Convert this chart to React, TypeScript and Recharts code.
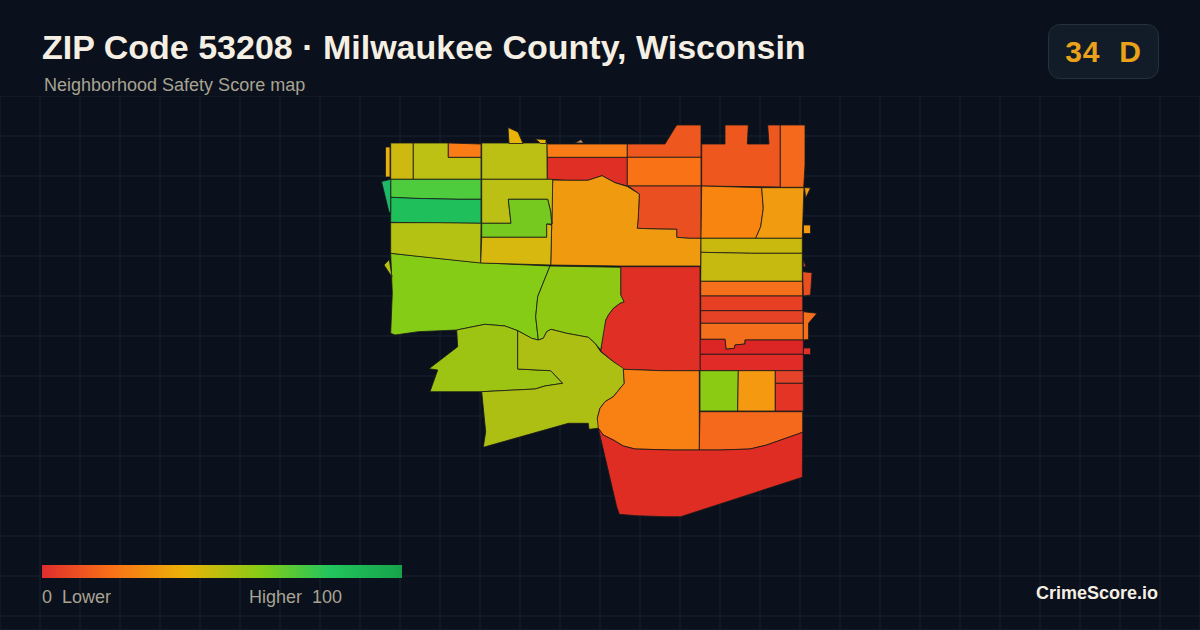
import { CartesianGrid, Scatter, ScatterChart, XAxis, YAxis } from 'recharts';

// map units: 1200 x 630 sheet
const X_TICKS = [0, 40, 80, 120, 160, 200, 240, 280, 320, 360, 400, 440, 480, 520, 560, 600, 640, 680, 720, 760, 800, 840, 880, 920, 960, 1000, 1040, 1080, 1120, 1160, 1200];
const Y_TICKS = [96, 136, 176, 216, 256, 296, 336, 376, 416, 456, 496, 536, 576, 616];

type Ring = Array<[number, number]>;

const NW_SLIVER: Ring = [[385.5, 147], [390, 147], [390, 177], [385.5, 177]];
const NW_BOX: Ring = [[390.7, 143], [413.3, 143], [413.3, 179.3], [390.7, 179.3]];
const NW_ELL: Ring = [[413.3, 143], [448.3, 143], [448.3, 157.3], [481, 157.3], [481, 179.3], [413.3, 179.3]];
const NW_NOTCH: Ring = [[448.3, 143], [481, 144], [481, 157.3], [448.3, 157.3]];
const N_BLOCK: Ring = [[481.7, 143], [547, 143], [547.3, 179.3], [481.7, 179.3]];
const N_BIT_A: Ring = [[508, 127.5], [518, 132], [523, 143.5], [509, 143.5]];
const N_BIT_B: Ring = [[535.5, 139], [546, 139.5], [546, 143.5], [540.7, 143.5]];
const N_BIT_C: Ring = [[575, 143], [581, 139.5], [583.5, 143]];
const N_RED: Ring = [[547.3, 157.3], [627.3, 157.3], [627.3, 186], [615, 182.7], [602, 175.7], [588, 180.3], [566.7, 180.3], [547.3, 179.3]];
const N_STRIP: Ring = [[547, 144], [627.3, 144], [627.3, 157.3], [547.3, 157.3]];
const NE_RAMP: Ring = [[627.3, 144], [665, 144], [676.7, 125], [701, 125], [701, 157.3], [627.3, 157.3]];
const NE_BAND: Ring = [[627.3, 157.3], [701, 157.3], [701, 186], [627.3, 186]];
const NE_TEETH: Ring = [[701.7, 144], [725, 144], [725, 125], [748.3, 125], [747.3, 144], [769, 144], [767.7, 125], [780.3, 125], [780.3, 187], [701.7, 186]];
const NE_EDGE: Ring = [[780.3, 125], [805, 125], [805, 165], [803.7, 187.3], [780.3, 187.3]];
const MID_EAST_RED: Ring = [[628.3, 186], [701, 186], [701, 238.3], [688.3, 238.3], [676.7, 237.3], [676.7, 229.3], [656.7, 229], [637.3, 228.3], [638.3, 216.7], [639.3, 194]];
const MID_AMBER: Ring = [[552.7, 180], [566.7, 180.3], [588, 180.3], [602, 175.7], [615, 182.7], [627.3, 186.5], [639.3, 194], [638.3, 216.7], [637.3, 228.3], [656.7, 229], [676.7, 229.3], [676.7, 237.3], [688.3, 238.3], [701, 238.3], [700.7, 266], [620, 266], [550.7, 265], [551.7, 225]];
const E_ORANGE: Ring = [[701.7, 186], [761.7, 187.7], [763.3, 208.3], [760.7, 226.7], [755.7, 238.3], [701, 238.3]];
const E_AMBER: Ring = [[761.7, 187.7], [804, 187.7], [803.3, 206], [802.3, 238.3], [755.7, 238.3], [760.7, 226.7], [763.3, 208.3]];
const E_BIT_A: Ring = [[804.5, 187.5], [810.5, 188], [805.7, 198]];
const E_BIT_B: Ring = [[803.5, 225], [810.5, 225], [810.5, 233.5], [803.5, 233.5]];
const E_OLIVE_A: Ring = [[701, 238.3], [802.3, 238.3], [802.3, 253.3], [751.7, 253.3], [701, 252.3]];
const E_OLIVE_B: Ring = [[701, 252.3], [751.7, 253.3], [802.3, 253.3], [802.3, 281.3], [700.7, 281.3]];
const STRIPE_A: Ring = [[700.7, 281.3], [802.7, 281.3], [802.7, 296], [700.7, 296]];
const STRIPE_B: Ring = [[700.7, 296], [802.7, 296], [802.7, 310.7], [700.7, 310.7]];
const STRIPE_C: Ring = [[700.7, 310.7], [803.3, 310.7], [803.3, 323.3], [700.7, 323.3]];
const STRIPE_D: Ring = [[700.7, 323.3], [803.3, 323.3], [803.3, 340], [745, 340], [745, 344], [735, 345], [734.3, 348.3], [726, 349.3], [725, 339.3], [700.7, 339.3]];
const STRIPE_E: Ring = [[700, 339.3], [725, 339.3], [726, 349.3], [734.3, 348.3], [735, 345], [745, 344], [745, 340], [803.3, 340], [803.3, 354.3], [700, 354.3]];
const STRIPE_F: Ring = [[700, 354.3], [803.3, 354.3], [803.3, 370.7], [700, 370.7]];
const SHORE_A: Ring = [[802.7, 271.7], [812, 272.7], [810.5, 295], [803.3, 296]];
const SHORE_B: Ring = [[803.3, 260], [806, 266.7], [803.3, 266.7]];
const SHORE_C: Ring = [[803.3, 311.7], [817, 313.3], [808.5, 323.3], [808.5, 339.5], [803.3, 340]];
const SHORE_D: Ring = [[803.5, 348], [810.5, 348], [810.5, 354.5], [803.5, 354.5]];
const CENTER_RED: Ring = [[620.7, 266.7], [700, 266.7], [700, 370.7], [661.7, 370.7], [623.3, 369.3], [613.3, 361.7], [600.7, 351], [603.3, 331.7], [605.7, 320], [608.3, 315], [613.3, 308.3], [620, 303.3], [624, 301.7], [620.7, 296]];
const W_LIME: Ring = [[390.7, 253.3], [480, 262.7], [550, 266], [537.7, 296.7], [535.7, 316.7], [538.3, 340], [531.7, 338.3], [517.7, 330.7], [505, 326], [485, 324.3], [456.7, 330], [418.3, 331.7], [395, 335], [390.7, 333.3], [392.3, 293]];
const W_BIT: Ring = [[384, 265], [389.3, 259.5], [392, 277]];
const C_GREEN: Ring = [[550, 266], [620.7, 267.3], [620.7, 295], [624, 301.7], [620, 303.3], [613.3, 308.3], [608.3, 315], [605.7, 320], [600.7, 350], [595, 343.3], [588.3, 337.3], [566.7, 333.3], [551, 329.3], [546.7, 331.7], [543.3, 338.3], [538.3, 340], [535.7, 316.7], [537.7, 296.7]];
const SW_LIME: Ring = [[456.7, 330], [485, 324.3], [505, 326], [517.7, 330.7], [517.7, 369], [550.7, 370.7], [562.7, 383.3], [545, 386], [535, 389], [481.7, 391.7], [455, 391.7], [430, 391.7], [437.7, 370], [429, 368.7], [457.7, 346.7]];
const S_OLIVE: Ring = [[517.7, 330.7], [531.7, 338.3], [538.3, 340], [543.3, 338.3], [546.7, 331.7], [551, 329.3], [566.7, 333.3], [588.3, 337.3], [595, 343.3], [600.7, 351.7], [613.3, 361.7], [623.3, 368.3], [624.3, 383.3], [613.3, 396.7], [605, 401.7], [600, 408.3], [597.3, 418.3], [600, 428], [589, 429.3], [588.3, 423.3], [568.3, 423.3], [483.3, 447.3], [485.7, 431.7], [481.7, 391.7], [535, 389], [545, 386], [562.7, 383.3], [550.7, 370.7], [517.7, 369]];
const S_ORANGE: Ring = [[623.3, 369.3], [661.7, 370.7], [699.3, 370.7], [699.3, 450], [671.7, 450], [635, 449], [623.3, 446], [613.3, 440], [603.3, 435], [598.3, 428.3], [597.3, 418.3], [600, 408.3], [605, 401.7], [613.3, 396.7], [624.3, 383.3]];
const SE_LIME: Ring = [[700, 370.7], [738.3, 370.7], [737.7, 411], [700, 411]];
const SE_AMBER: Ring = [[738.3, 370.7], [775.3, 370.7], [775.3, 411], [737.7, 411]];
const SE_RED_A: Ring = [[775.3, 370.7], [803.3, 370.7], [803.3, 383.3], [775.3, 383.3]];
const SE_RED_B: Ring = [[775.3, 383.3], [803.3, 383.3], [803.3, 411], [775.3, 411]];
const SE_ORANGE: Ring = [[700, 411.7], [802.7, 411.7], [802.7, 432.3], [766.7, 445], [750, 449], [720, 450], [699.3, 450]];
const FAR_S_RED: Ring = [[598.3, 428.3], [603.3, 435], [613.3, 440], [623.3, 446], [635, 449], [671.7, 450], [699.3, 450], [720, 450], [750, 449], [766.7, 445], [802.7, 432.3], [802.3, 477.3], [680.7, 516.7], [665, 516.7], [636.7, 515.7], [619.3, 514.3], [616.7, 506.7]];
const W_GREEN: Ring = [[390.7, 179.3], [481, 179.3], [481, 199.3], [458.3, 199.3], [412.7, 198.3], [390.7, 197.3]];
const W_DEEP: Ring = [[390.7, 197.3], [412.7, 198.3], [458.3, 199.3], [481, 199.3], [481, 223.3], [436, 223], [390.7, 222.3]];
const W_SLIVER: Ring = [[381.5, 181.5], [390.7, 179.3], [390.7, 213], [389, 212]];
const W_OLIVE: Ring = [[390.7, 222.7], [436, 222.7], [481, 223.3], [480.7, 263], [415, 256], [390.7, 253.3]];
const HOOK_OLIVE: Ring = [[481.7, 179.3], [552.7, 179.3], [552, 224], [550.7, 212], [547.7, 199.3], [508.3, 199.3], [511, 223.3], [481.7, 223.3]];
const HOOK_GREEN: Ring = [[508.3, 199.3], [547.7, 199.3], [550.7, 212], [551.7, 224], [546.7, 224], [546.7, 237.3], [481.7, 237.3], [481.7, 223.3], [511, 223.3]];
const HOOK_YELLOW: Ring = [[481.7, 237.3], [546.7, 237.3], [546.7, 224], [551.7, 225], [550.7, 265], [480.7, 263]];

const TRACTS: Ring[] = [
  NW_SLIVER, NW_BOX, NW_ELL, NW_NOTCH, N_BLOCK, N_BIT_A, N_BIT_B, N_BIT_C, N_RED, N_STRIP,
  NE_RAMP, NE_BAND, NE_TEETH, NE_EDGE, MID_EAST_RED, MID_AMBER, E_ORANGE, E_AMBER, E_BIT_A, E_BIT_B,
  E_OLIVE_A, E_OLIVE_B, STRIPE_A, STRIPE_B, STRIPE_C, STRIPE_D, STRIPE_E, STRIPE_F,
  SHORE_A, SHORE_B, SHORE_C, SHORE_D, CENTER_RED, W_LIME, W_BIT, C_GREEN, SW_LIME, S_OLIVE,
  S_ORANGE, SE_LIME, SE_AMBER, SE_RED_A, SE_RED_B, SE_ORANGE, FAR_S_RED,
  W_GREEN, W_DEEP, W_SLIVER, W_OLIVE, HOOK_OLIVE, HOOK_GREEN, HOOK_YELLOW,
];

const TRACT_FILLS = [
  '#e8b010', '#cdb90f', '#bdc114', '#f97c16', '#bcc014', '#eab308', '#eab308', '#c89060', '#e03025', '#f97c16',
  '#ee581f', '#f97316', '#ee581f', '#f4691b', '#ea4f22', '#f09a10', '#f7850f', '#f19c10', '#f19c10', '#f19c10',
  '#c9b90e', '#c6ba10', '#f4701a', '#e63f24', '#e64225', '#f36f1b', '#dc2626', '#e02b27',
  '#ea4f22', '#e64225', '#f36f1b', '#e03025', '#e03025', '#85cc16', '#b5c214', '#90c914', '#9dc412', '#aebf14',
  '#f98012', '#8ccb14', '#f59a10', '#e6442a', '#e33426', '#f4691b', '#e02d23',
  '#4fcc3e', '#1fbf5b', '#1db968', '#b4c214', '#bcc014', '#76c91e', '#d6b80e',
];

const SANS = '"Liberation Sans", Arial, sans-serif';

const noDot = () => <g />;

export default function App() {
  return (
    <div style={{ position: 'absolute', left: 0, top: 0, width: 1200, height: 630, background: '#0a101c', overflow: 'hidden', fontFamily: SANS }}>
      <ScatterChart width={1200} height={630} margin={{ top: 0, right: 0, bottom: 0, left: 0 }} style={{ position: 'absolute', left: 0, top: 0 }}>
        <XAxis type="number" dataKey="x" domain={[0, 1200]} ticks={X_TICKS} interval={0} hide allowDataOverflow />
        <YAxis type="number" dataKey="y" domain={[0, 630]} ticks={Y_TICKS} interval={0} reversed hide allowDataOverflow />
        <CartesianGrid stroke="#16232e" strokeWidth={1} />
        {TRACTS.map((ring, i) => (
          <Scatter
            key={i}
            data={[...ring, ring[0]].map(([x, y]) => ({ x, y }))}
            shape={noDot}
            line={{ fill: TRACT_FILLS[i], stroke: '#1a1a1a', strokeWidth: 0.8 }}
            isAnimationActive={false}
          />
        ))}
      </ScatterChart>

      <div style={{ position: 'absolute', left: 0, top: 0, width: 1200, height: 96, background: '#0a101c' }} />
      <div style={{ position: 'absolute', left: 42, top: 27, fontSize: 34, fontWeight: 700, color: '#f5efe3', whiteSpace: 'nowrap', lineHeight: '40px' }}>
        ZIP Code 53208 · Milwaukee County, Wisconsin
      </div>
      <div style={{ position: 'absolute', left: 44, top: 75, fontSize: 18, color: '#a8a393', whiteSpace: 'nowrap', lineHeight: '20px' }}>
        Neighborhood Safety Score map
      </div>
      <div style={{ position: 'absolute', left: 1048, top: 24, width: 109, height: 53, borderRadius: 12, border: '1px solid #25303d', background: '#111c28', color: '#eaa21a', fontSize: 30, letterSpacing: 1, fontWeight: 700, lineHeight: '53px', textAlign: 'center', whiteSpace: 'pre' }}>
        34  D
      </div>

      <div style={{ position: 'absolute', left: 42, top: 565, width: 360, height: 13, background: 'linear-gradient(90deg, #e02d2d 0%, #f97316 20%, #eab308 40%, #84cc16 61%, #22c55e 80%, #16a34a 100%)' }} />
      <div style={{ position: 'absolute', left: 42, top: 587, fontSize: 18, color: '#a8a393', whiteSpace: 'pre', lineHeight: '20px' }}>0  Lower</div>
      <div style={{ position: 'absolute', left: 249, top: 587, fontSize: 18, color: '#a8a393', whiteSpace: 'pre', lineHeight: '20px' }}>Higher  100</div>
      <div style={{ position: 'absolute', right: 42, top: 583, fontSize: 18, fontWeight: 700, color: '#f5efe3', whiteSpace: 'nowrap', lineHeight: '20px' }}>CrimeScore.io</div>
    </div>
  );
}
